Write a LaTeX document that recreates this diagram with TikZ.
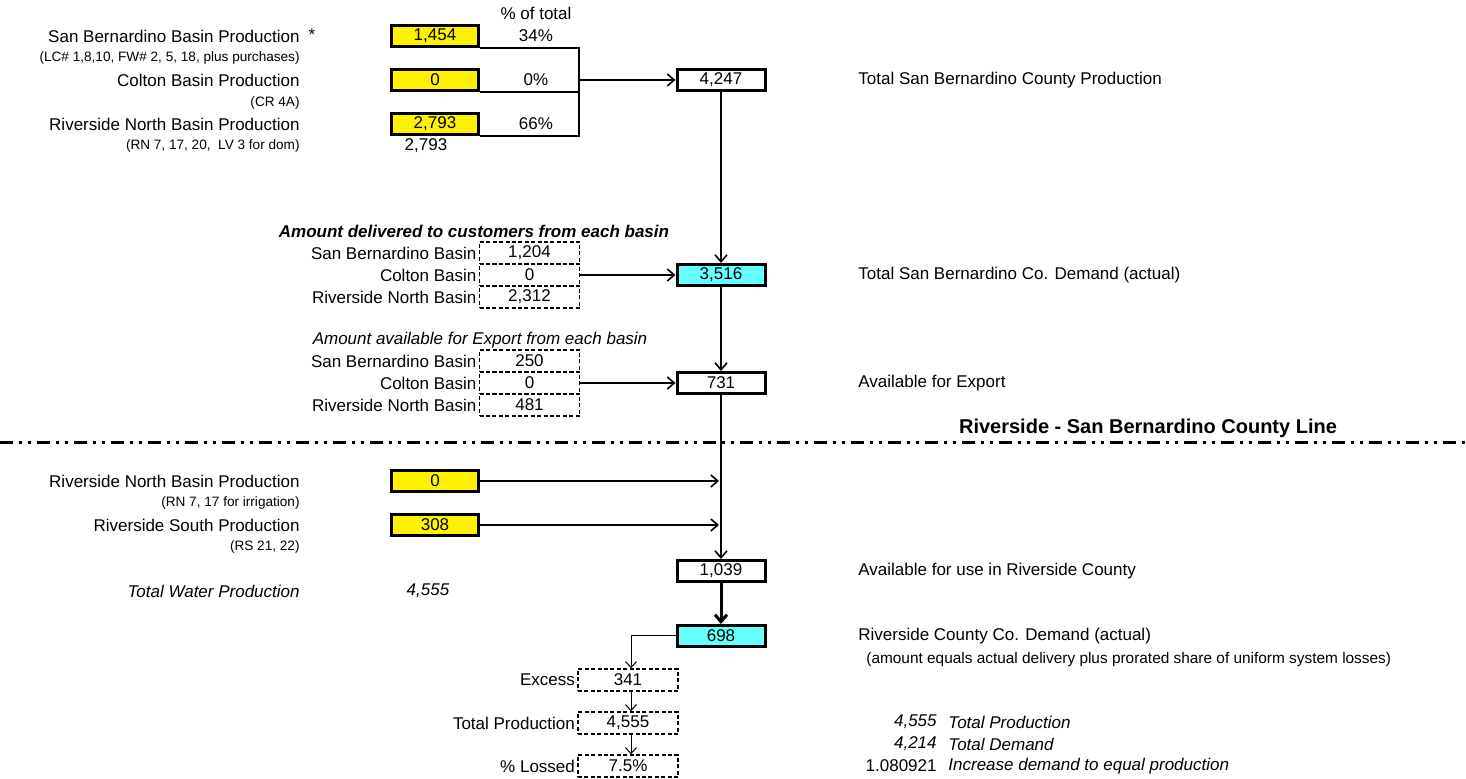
\documentclass[tikz,border=0pt]{standalone}
\usepackage{fontspec}
\setmainfont{Liberation Sans}
\usepackage{tikz}
\usetikzlibrary{arrows.meta}
\definecolor{demcyan}{RGB}{102,255,255}

\begin{document}
\begin{tikzpicture}[x=0.5pt, y=-0.5pt, font=\fontsize{8.5}{10}\selectfont,
  >={Straight Barb[length=3.5pt,width=6pt]},
  prodbox/.style={draw, line width=1.5pt, fill=yellow, minimum width=43.5pt, minimum height=10.5pt, inner sep=0pt},
  totbox/.style={draw, line width=1.5pt, fill=white, minimum width=44pt, minimum height=10.5pt, inner sep=0pt},
  dembox/.style={totbox, fill=demcyan},
  cellbox/.style={draw, line width=0.7pt, dash pattern=on 2pt off 1.2pt, minimum width=50pt, minimum height=11pt, inner sep=0pt},
  lbl/.style={anchor=east, inner sep=1pt},
  rlbl/.style={anchor=west, inner sep=0pt},
  small/.style={font=\fontsize{6.8}{8}\selectfont},
  conn/.style={->, line width=0.8pt},
  thinconn/.style={->, line width=0.5pt, >={Straight Barb[length=3pt,width=5.5pt]}},
  countyline/.style={line width=1.5pt, dash pattern=on 6.5pt off 3pt on 1.5pt off 3pt on 1.5pt off 3pt}]
\useasboundingbox (0,0) rectangle (1466,779);
\node (pcthead) at (536,13) {\% of total};
\node[lbl] (sbname) at (302,36) {San Bernardino Basin Production};
\node (star) at (312,35) {*};
\node[lbl, small] (sbwells) at (302,58) {(LC\# 1,8,10, FW\# 2, 5, 18, plus purchases)};
\node[lbl] (cbname) at (302,80) {Colton Basin Production};
\node[lbl, small] (cbwells) at (302,103) {(CR 4A)};
\node[lbl] (rnname) at (302,124) {Riverside North Basin Production};
\node[lbl, small] (rnwells) at (302,146) {(RN 7, 17, 20,\ \ LV 3 for dom)};
\node[prodbox] (sbp) at (435,36) {1,454};
\node[prodbox] (cbp) at (435,80) {0};
\node[prodbox] (rnp) at (435,124) {2,793};
\node (rncopy) at (426,146) {2,793};
\node (sbpct) at (536,36) {34\%};
\node (cbpct) at (536,80) {0\%};
\node (rnpct) at (536,124) {66\%};
\coordinate (br) at (579,80);
\draw[line width=0.8pt] (sbp.south east) -| (br |- rnp.south) -- (rnp.south east);
\draw[line width=0.8pt] (cbp.south east) -- (cbp.south east -| br);
\node[totbox] (tsb) at (721,80) {4,247};
\node[rlbl] (tsbname) at (858,80) {Total San Bernardino County Production};
\draw[conn] (br) -- (tsb.west);

\node (delhead) at (474,231) {\bfseries\itshape Amount delivered to customers from each basin};
\node[cellbox] (del1) at (529.5,253) {1,204};
\node[cellbox] (del2) at (529.5,275) {0};
\node[cellbox] (del3) at (529.5,297) {2,312};
\node[lbl] at (del1.west) {San Bernardino Basin};
\node[lbl] at (del2.west) {Colton Basin};
\node[lbl] at (del3.west) {Riverside North Basin};
\node[dembox] (tsd) at (721,275) {3,516};
\node[rlbl] (tsdname) at (858,275) {Total San Bernardino Co. Demand (actual)};
\draw[conn] (tsb.south) -- (tsd.north);
\draw[conn] (del2.east) -- (tsd.west);

\node (exphead) at (480,340) {\itshape Amount available for Export from each basin};
\node[cellbox] (exp1) at (529.5,361) {250};
\node[cellbox] (exp2) at (529.5,383) {0};
\node[cellbox] (exp3) at (529.5,405) {481};
\node[lbl] at (exp1.west) {San Bernardino Basin};
\node[lbl] at (exp2.west) {Colton Basin};
\node[lbl] at (exp3.west) {Riverside North Basin};
\node[totbox] (avx) at (721,383) {731};
\node[rlbl] (avxname) at (858,383) {Available for Export};
\draw[conn] (tsd.south) -- (avx.north);
\draw[conn] (exp2.east) -- (avx.west);

% county line
\coordinate (cl1) at (0,443);
\coordinate (cl2) at (1466,443);
\draw[countyline] (cl1) -- (cl2);
\node (clname) at (1148,428) {\fontsize{10}{12}\selectfont\bfseries Riverside - San Bernardino County Line};

\node[lbl] (rn2name) at (302,481) {Riverside North Basin Production};
\node[lbl, small] (rn2wells) at (302,503) {(RN 7, 17 for irrigation)};
\node[lbl] (rsname) at (302,525) {Riverside South Production};
\node[lbl, small] (rswells) at (302,547) {(RS 21, 22)};
\node[prodbox] (rnb) at (435,481) {0};
\node[prodbox] (rsb) at (435,525) {308};
\node[totbox] (rvu) at (721,571) {1,039};
\node[rlbl] (rvuname) at (858,571) {Available for use in Riverside County};
\draw[conn] (avx.south) -- (rvu.north);
\draw[conn, shorten >=1pt] (rnb.east) -- (rnb.east -| rvu.north);
\draw[conn, shorten >=1pt] (rsb.east) -- (rsb.east -| rvu.north);
\node[lbl] (twpname) at (302,591) {\itshape Total Water Production};
\node (twp) at (428,591) {\itshape 4,555};

\node[dembox] (rcd) at (721,636) {698};
\node[rlbl] (rcdname) at (858,636) {Riverside County Co. Demand (actual)};
\node[rlbl, font=\fontsize{7.7}{9}\selectfont] (rcdnote) at (866,660) {(amount equals actual delivery plus prorated share of uniform system losses)};
\draw[->, line width=1.5pt] (rvu.south) -- (rcd.north);

\node[cellbox] (xs) at (628,680) {341};
\node[cellbox] (tp) at (628,723) {4,555};
\node[cellbox] (pl) at (628,766) {7.5\%};
\node[lbl] at (xs.west) {Excess};
\node[lbl] at (tp.west) {Total Production};
\node[lbl] at (pl.west) {\% Lossed};
\coordinate (drop) at (631,636);
\draw[thinconn] (rcd.west) -- (drop) -- (drop |- xs.north);
\draw[thinconn] (xs.south -| drop) -- (tp.north -| drop);
\draw[thinconn] (tp.south -| drop) -- (pl.north -| drop);

\node[lbl] (sumtp) at (939,722) {\itshape 4,555};
\node[rlbl] at (948,722) {\itshape Total Production};
\node[lbl] (sumtd) at (939,744) {\itshape 4,214};
\node[rlbl] at (948,744) {\itshape Total Demand};
\node[lbl] (sumf) at (939,766) {1.080921};
\node[rlbl] at (948,766) {\itshape Increase demand to equal production};
\end{tikzpicture}
\end{document}
